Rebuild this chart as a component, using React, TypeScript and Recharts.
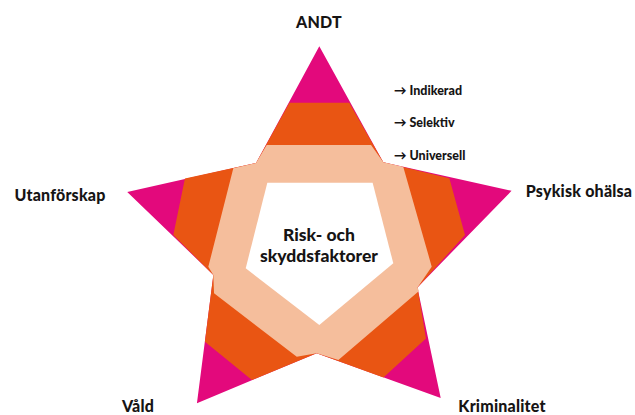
import React from 'react';
import { RadarChart, Radar, PolarAngleAxis, PolarRadiusAxis } from 'recharts';

// Polar vertices (angle in degrees, counter-clockwise from 3 o'clock, radius in px-ish units)

// outer star (tips + inner corners) -> Indikerad
const indikeradAngles = [16.0, 52.6, 90, 127.3, 164.3, 195.3, 232.1, 268.6, 308.6, 337.1];
const indikeradRadii = [200.2, 105.4, 200, 104.4, 199.7, 109.9, 199.4, 107.3, 194.8, 106.6];

// star cut at the first band -> Selektiv
const selektivAngles = [4.3, 27.5, 52.6, 78.2, 101.8, 127.3, 153.3, 175.7, 195.3, 219.9, 243.3, 268.6, 296.0, 319.1, 337.1];
const selektivRadii = [146.1, 146.6, 105.4, 146.4, 146.4, 104.4, 150.4, 146.4, 109.9, 149.1, 150.0, 107.3, 146.3, 141.1, 106.6];

// star cut at the second band -> Universell
const universellAngles = [43.4, 52.6, 62.9, 117.5, 127.3, 137.9, 190.6, 195.3, 204.2, 258.5, 268.6, 279.5, 335.7, 337.1, 349.6];
const universellRadii = [115.5, 105.4, 113.5, 113.9, 104.4, 115.9, 112.9, 109.9, 115.4, 113.0, 107.3, 115.6, 109.4, 106.6, 114.3];

// white pentagon in the middle
const karnaAngles = [49.9, 129.4, 196.9, 270, 346.8];
const karnaRadii = [82.8, 81.9, 76.9, 79.0, 76.0];

const areas = ['ANDT', 'Psykisk ohälsa', 'Kriminalitet', 'Våld', 'Utanförskap'];
const levels = ['Indikerad', 'Selektiv', 'Universell'];

const toRows = (angles: number[], radii: number[]) => angles.map((angle, i) => ({ angle, r: radii[i] }));

const layers = [
  { key: 'indikerad', rows: toRows(indikeradAngles, indikeradRadii), fill: '#e3097c' },
  { key: 'selektiv', rows: toRows(selektivAngles, selektivRadii), fill: '#e95513' },
  { key: 'universell', rows: toRows(universellAngles, universellRadii), fill: '#f5be9c' },
  { key: 'karna', rows: toRows(karnaAngles, karnaRadii), fill: '#ffffff' },
];

const font = 'Lato, "Open Sans", sans-serif';
const ink = '#161414';

const areaPos: Record<string, { left: number; top: number }> = {
  ANDT: { left: 319, top: 22 },
  'Psykisk ohälsa': { left: 579, top: 191 },
  Kriminalitet: { left: 502, top: 406 },
  Våld: { left: 138, top: 406 },
  Utanförskap: { left: 60, top: 195 },
};

const levelTop = [90, 122, 155];

export default function App() {
  return (
    <div style={{ position: 'absolute', left: 0, top: 0, width: 635, height: 415, background: '#fff', fontFamily: font, overflow: 'hidden' }}>
      {layers.map((layer) => (
        <div key={layer.key} style={{ position: 'absolute', left: 0, top: 0 }}>
          <RadarChart
            width={635}
            height={415}
            data={layer.rows}
            cx={319.3}
            cy={246}
            outerRadius={200}
            startAngle={0}
            endAngle={360}
            margin={{ top: 0, right: 0, bottom: 0, left: 0 }}
          >
            <PolarAngleAxis dataKey="angle" type="number" domain={[0, 360]} tick={false} axisLine={false} tickLine={false} />
            <PolarRadiusAxis domain={[0, 200]} tick={false} axisLine={false} tickLine={false} />
            <Radar dataKey="r" fill={layer.fill} fillOpacity={1} stroke="none" isAnimationActive={false} />
          </RadarChart>
        </div>
      ))}

      {areas.map((a) => (
        <div
          key={a}
          style={{
            position: 'absolute',
            left: areaPos[a].left,
            top: areaPos[a].top,
            transform: 'translate(-50%, -50%)',
            fontSize: 16,
            lineHeight: '16px',
            fontWeight: 900,
            letterSpacing: 0.2,
            color: ink,
            whiteSpace: 'nowrap',
          }}
        >
          {a}
        </div>
      ))}

      {levels.map((l, i) => (
        <div
          key={l}
          style={{
            position: 'absolute',
            left: 394,
            top: levelTop[i],
            transform: 'translateY(-50%)',
            fontSize: 12.5,
            fontWeight: 900,
            color: ink,
            whiteSpace: 'nowrap',
          }}
        >
          → {l}
        </div>
      ))}

      <div
        style={{
          position: 'absolute',
          left: 319,
          top: 245,
          transform: 'translate(-50%, -50%)',
          fontSize: 17.5,
          fontWeight: 900,
          lineHeight: '21px',
          color: ink,
          textAlign: 'center',
          whiteSpace: 'nowrap',
        }}
      >
        Risk- och
        <br />
        skyddsfaktorer
      </div>
    </div>
  );
}
